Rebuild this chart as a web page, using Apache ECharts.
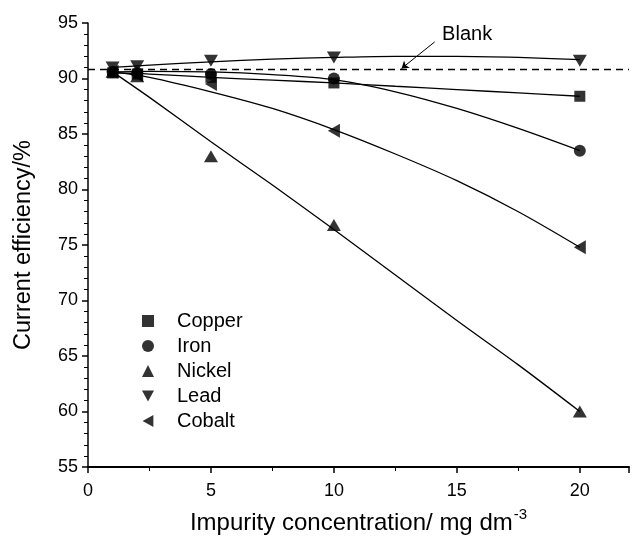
<!DOCTYPE html>
<html><head><meta charset="utf-8">
<script src="https://cdn.jsdelivr.net/npm/echarts@6/dist/echarts.min.js"></script>
<style>html,body{margin:0;padding:0;background:#fff}#c{width:632px;height:541px}</style>
</head><body><div id="c"></div>
<script>
// measured concentrations (mg dm^-3)
const xConc = [1, 2, 5, 10, 20];
const copper = [90.5, 90.4, 90.1, 89.6, 88.4];
const iron   = [90.6, 90.5, 90.4, 90.0, 83.5];
const nickel = [90.6, 90.2, 83.0, 76.8, 60.0];
const lead   = [91.0, 91.1, 91.6, 91.9, 91.6];
const cobalt = [90.6, 90.3, 89.5, 85.3, 74.8];
// fitted curves
const xFit = [1, 2.5, 5, 7.5, 10, 12.5, 15, 17.5, 20];
const copperFit = [90.5, 90.4, 90.1, 89.85, 89.6, 89.3, 89.0, 88.7, 88.4];
const ironFit   = [90.6, 90.65, 90.6, 90.35, 89.9, 88.8, 87.3, 85.5, 83.5];
const nickelFit = [90.6, 88.3, 84.3, 80.4, 76.4, 72.3, 68.2, 64.2, 60.0];
const leadFit   = [91.0, 91.2, 91.5, 91.75, 91.9, 92.0, 92.0, 91.9, 91.7];
const cobaltFit = [90.6, 90.1, 88.8, 87.3, 85.4, 83.2, 80.8, 78.0, 74.8];
const blankValue = 90.8;
const blankX = [0, 22];
const xTicks = [0, 5, 10, 15, 20];
const yTicks = [55, 60, 65, 70, 75, 80, 85, 90, 95];
const names = ['Copper', 'Iron', 'Nickel', 'Lead', 'Cobalt'];

const FONT = 'Liberation Sans, Arial, sans-serif';
const syms = {
  Copper: 'rect',
  Iron: 'circle',
  Nickel: 'triangle',
  Lead: 'path://M0,0 L10,0 L5,9 Z',
  Cobalt: 'path://M0,5 L9,0 L9,10 Z'
};
const sizes = {Copper: 11, Iron: 12, Nickel: [14, 12], Lead: [14, 12], Cobalt: [12, 14]};
const pts = {Copper: copper, Iron: iron, Nickel: nickel, Lead: lead, Cobalt: cobalt};
const fits = {Copper: copperFit, Iron: ironFit, Nickel: nickelFit, Lead: leadFit, Cobalt: cobaltFit};

const series = [];
names.forEach(n => {
  series.push({
    type: 'line', data: xFit.map((x, i) => [x, fits[n][i]]),
    smooth: 0.3, showSymbol: false, silent: true,
    lineStyle: {color: '#000', width: 1.3}, z: 2
  });
});
names.forEach(n => {
  series.push({
    name: n, type: 'scatter', data: xConc.map((x, i) => [x, pts[n][i]]),
    symbol: syms[n], symbolSize: sizes[n],
    itemStyle: {color: '#000'}, z: 3
  });
});
series.push({
  type: 'line', data: blankX.map(x => [x, blankValue]),
  showSymbol: false, silent: true,
  lineStyle: {color: '#000', width: 1.5, type: [7, 5]}, z: 1,
  markLine: {
    silent: true, symbol: ['none', 'arrow'], symbolSize: 7,
    lineStyle: {color: '#000', width: 1, type: 'solid'},
    label: {show: false},
    data: [[{coord: [14.1, 93.3]}, {coord: [12.75, 90.9]}]]
  },
  markPoint: {
    silent: true, symbolSize: 0,
    label: {show: true, position: 'right', distance: 0, formatter: 'Blank', color: '#000', fontSize: 20, fontFamily: FONT},
    data: [{coord: [14.4, 94.0]}]
  }
});

const chart = echarts.init(document.getElementById('c'));
chart.setOption({
  animation: false,
  backgroundColor: '#fff',
  grid: {left: 88, top: 23, right: 1, bottom: 73, containLabel: false},
  legend: {
    data: names, orient: 'vertical', left: 142, top: 311, padding: 0,
    itemWidth: 12, itemHeight: 12, itemGap: 5,
    textStyle: {color: '#000', fontSize: 20, lineHeight: 20, fontFamily: FONT, padding: [0, 0, 0, 18]},
    selectedMode: false
  },
  xAxis: {
    type: 'value', min: 0, max: 22, interval: 5,
    name: '{a|Impurity concentration/ mg dm}{s|-3}',
    nameLocation: 'middle', nameGap: 40,
    nameTextStyle: {rich: {
      a: {fontSize: 24, fontFamily: FONT, color: '#000', verticalAlign: 'bottom', lineHeight: 28},
      s: {fontSize: 15, fontFamily: FONT, color: '#000', verticalAlign: 'top', lineHeight: 28, padding: [0, 0, 14, 1]}
    }},
    axisLine: {lineStyle: {color: '#000', width: 2}},
    axisTick: {length: 6, lineStyle: {color: '#000', width: 1.5}},
    minorTick: {show: true, splitNumber: 2, length: 4, lineStyle: {color: '#000', width: 1}},
    axisLabel: {color: '#000', fontSize: 18, fontFamily: FONT, margin: 15,
      formatter: v => xTicks.includes(v) ? String(v) : ''},
    splitLine: {show: false}
  },
  yAxis: {
    type: 'value', min: 55, max: 95, interval: 5,
    name: 'Current efficiency/%', nameLocation: 'middle', nameGap: 52,
    nameTextStyle: {fontSize: 23.5, fontFamily: FONT, color: '#000'},
    axisLine: {show: true, lineStyle: {color: '#000', width: 1.5}},
    axisTick: {show: true, length: 6, lineStyle: {color: '#000', width: 1.5}},
    minorTick: {show: true, splitNumber: 5, length: 4, lineStyle: {color: '#000', width: 1}},
    axisLabel: {color: '#000', fontSize: 18, fontFamily: FONT, margin: 10,
      formatter: v => yTicks.includes(v) ? String(v) : ''},
    splitLine: {show: false}
  },
  series: series
});
</script></body></html>
